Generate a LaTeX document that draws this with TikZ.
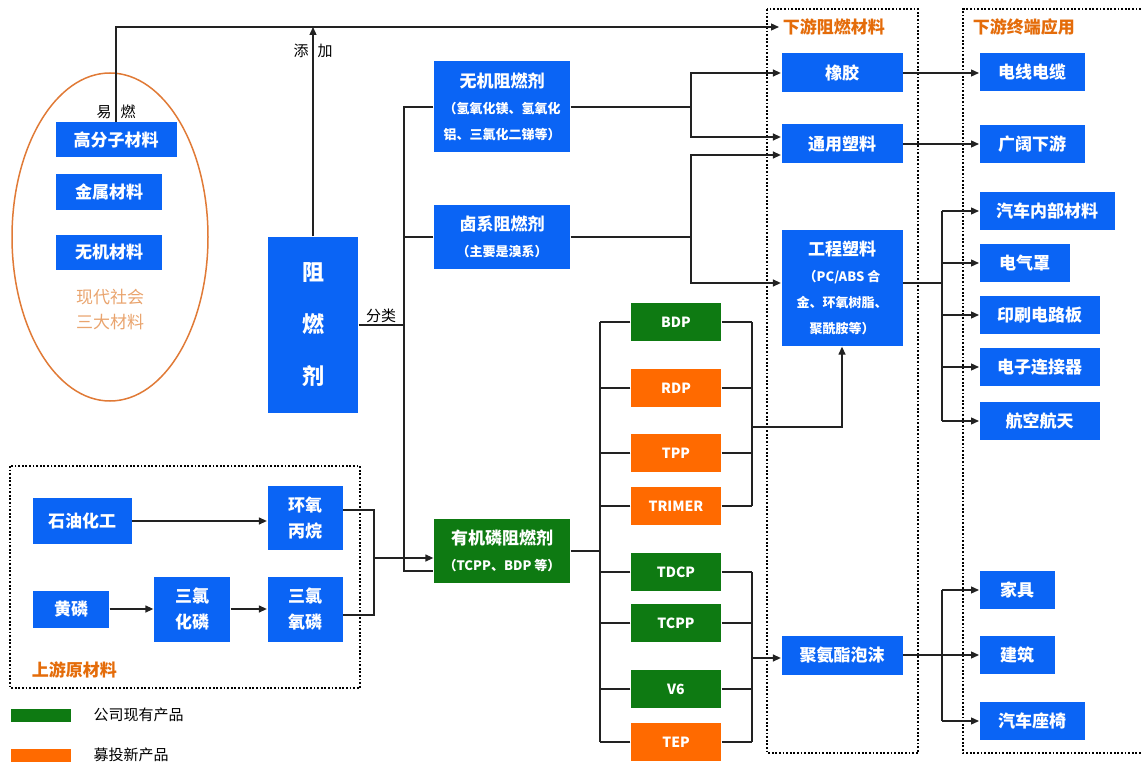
\documentclass[tikz,border=0pt]{standalone}
\usepackage{fontspec}
\setmainfont{Noto Sans CJK SC}
\usetikzlibrary{arrows.meta, positioning, calc}
\definecolor{cblue}{HTML}{0A64F5}
\definecolor{cgreen}{HTML}{0E7A12}
\definecolor{corange}{HTML}{FF6A00}
\definecolor{ctitle}{HTML}{E46C0A}
\definecolor{clight}{HTML}{E9A46E}
\definecolor{cring}{HTML}{E07A36}
\definecolor{cline}{HTML}{222222}
\newcommand{\subtxt}{\fontsize{13}{26}\selectfont}
\tikzset{
  every picture/.style={line width=1.3pt},
  box/.style={fill=#1, text=white, align=center, inner sep=0pt, font=\bfseries\fontsize{17}{26}\selectfont},
  box/.default=cblue,
  prod/.style={box=#1, minimum width=90pt, minimum height=38pt, font=\bfseries\fontsize{14}{26}\selectfont},
  app/.style={box, anchor=west, minimum height=38pt},
  arrow/.style={-{Triangle[length=8pt, width=7pt]}, draw=cline},
  link/.style={draw=cline},
  frame/.style={draw=black, line width=1.8pt, dash pattern=on 1.8pt off 1.8pt},
  heading/.style={text=ctitle, font=\bfseries\fontsize{17}{20}\selectfont},
  tag/.style={font=\fontsize{15}{18}\selectfont},
}

\begin{document}
\begin{tikzpicture}[x=1pt, y=-1pt]
  \useasboundingbox (0,0) rectangle (1141,765);
  % three materials
  \draw[cring, line width=1.5pt] (110,237) ellipse [x radius=98pt, y radius=164pt];
  \node[box, minimum width=121pt, minimum height=35pt] (gfz) at (116,140) {高分子材料};
  \node[box, minimum width=106pt, minimum height=35pt] (js) at (109,192) {金属材料};
  \node[box, minimum width=106pt, minimum height=35pt] (wjcl) at (109,252) {无机材料};
  \node[text=clight, align=center, font=\fontsize{17}{25}\selectfont] (sdcl) at (110,310) {现代社会\\三大材料};
  \node[tag] (yr) at (116,112) {易\hspace{9pt}燃};

  \node[box, minimum width=90pt, minimum height=176pt, font=\bfseries\fontsize{22}{52}\selectfont] (zrj) at (313,325) {阻\\燃\\剂};
  \node[tag] (tj) at (313,51) {添\hspace{9pt}加};
  \node[tag] (fl) at (381,316) {分类};

  \node[box, minimum width=136pt, minimum height=91pt] (wj) at (502,107) {无机阻燃剂\\\subtxt （氢氧化镁、氢氧化\\\subtxt 铝、三氯化二锑等）};
  \node[box, minimum width=136pt, minimum height=64pt] (lx) at (502,237) {卤系阻燃剂\\\subtxt （主要是溴系）};
  \node[box=cgreen, minimum width=136pt, minimum height=64pt] (yjl) at (502,551) {有机磷阻燃剂\\\subtxt （TCPP、BDP 等）};

  \foreach \i/\y/\c/\t in {1/322/cgreen/BDP, 2/388/corange/RDP, 3/453/corange/TPP, 4/506/corange/TRIMER,
                           5/572/cgreen/TDCP, 6/623/cgreen/TCPP, 7/689/cgreen/V6, 8/742/corange/TEP}
    \node[prod=\c] (p\i) at (676,\y) {\t};

  % downstream
  \draw[frame] (767,9) rectangle (918,753);
  \draw[frame] (1141,9) -- (963,9) -- (963,753) -- (1141,753);
  \node[heading, anchor=west] (xylbl) at (779,27) {下游阻燃材料};
  \node[heading, anchor=west] (zdlbl) at (969,27) {下游终端应用};
  \node[box, minimum width=121pt, minimum height=39pt] (xj) at (842,73) {橡胶};
  \node[box, minimum width=121pt, minimum height=39pt] (ty) at (842,144) {通用塑料};
  \node[box, minimum width=121pt, minimum height=116pt] (gc) at (842,288) {工程塑料\\\subtxt （PC/ABS 合\\\subtxt 金、环氧树脂、\\\subtxt 聚酰胺等）};
  \node[box, minimum width=121pt, minimum height=39pt] (jq) at (842,655) {聚氨酯泡沫};

  \node[app, minimum width=105pt] (dx) at (979,72) {电线电缆};
  \node[app, minimum width=105pt] (gk) at (979,144) {广阔下游};
  \node[app, minimum width=135pt] (a1) at (979,211) {汽车内部材料};
  \node[app, minimum width=90pt] (a2) at (979,263) {电气罩};
  \node[app, minimum width=120pt] (a3) at (979,315) {印刷电路板};
  \node[app, minimum width=120pt] (a4) at (979,367) {电子连接器};
  \node[app, minimum width=120pt] (a5) at (979,421) {航空航天};
  \node[app, minimum width=75pt] (f1) at (979,590) {家具};
  \node[app, minimum width=75pt] (f2) at (979,655) {建筑};
  \node[app, minimum width=105pt] (f3) at (979,721) {汽车座椅};

  % upstream
  \draw[frame] (10,466) rectangle (360,688);
  \node[heading, anchor=west] (sylbl) at (28,670) {上游原材料};
  \node[box, minimum width=99pt, minimum height=46pt] (syhg) at (82,521) {石油化工};
  \node[box, minimum width=75pt, minimum height=64pt] (hy) at (305,518) {环氧\\丙烷};
  \node[box, minimum width=76pt, minimum height=37pt] (hl) at (71,609) {黄磷};
  \node[box, minimum width=76pt, minimum height=65pt] (slh) at (192,609) {三氯\\化磷};
  \node[box, minimum width=75pt, minimum height=65pt] (sly) at (305,609) {三氯\\氧磷};

  % legend
  \node[fill=cgreen, minimum width=60pt, minimum height=13pt, inner sep=0pt] (lg1) at (41,715) {};
  \node[tag, right=18pt of lg1] (lt1) {公司现有产品};
  \node[fill=corange, minimum width=60pt, minimum height=13pt, inner sep=0pt] (lg2) at (41,755) {};
  \node[tag, right=18pt of lg2] (lt2) {募投新产品};

  % connectors
  \draw[arrow] (gfz.north) |- (xylbl.west);
  \draw[arrow] (zrj.north) -- (zrj.north |- xylbl.west);

  \coordinate (tk) at (404,571);
  \draw[link] (zrj.east) -- (zrj.east -| tk);
  \draw[link] (wj.west) -| (tk) -- (tk -| yjl.west);
  \draw[link] (lx.west) -- (lx.west -| tk);

  \draw[arrow] (syhg.east) -- (syhg.east -| hy.west);
  \draw[arrow] (hl.east) -- (slh.west);
  \draw[arrow] (slh.east) -- (sly.west);
  \coordinate (up) at (374,558);
  \draw[link] ([yshift=8pt]hy.east) -| (up);
  \draw[link] ([yshift=-6pt]sly.east) -| (up);
  \draw[arrow] (up) -- (up -| yjl.west);

  \coordinate (br) at (691,0);
  \draw[link] (wj.east) -- (wj.east -| br);
  \draw[arrow] (wj.east -| br) |- (xj.west);
  \draw[arrow] (wj.east -| br) |- ([yshift=7pt]ty.west);
  \draw[link] (lx.east) -- (lx.east -| br);
  \draw[arrow] (lx.east -| br) |- ([yshift=-11pt]ty.west);
  \draw[arrow] (lx.east -| br) |- ([yshift=5pt]gc.west);

  \coordinate (pl) at (600,0);
  \coordinate (pr) at (752,0);
  \draw[link] (yjl.east) -- (yjl.east -| pl);
  \draw[link] (p1.west -| pl) -- (p8.west -| pl);
  \foreach \i in {1,...,8} {
    \draw[link] (p\i.west) -- (p\i.west -| pl);
    \draw[link] (p\i.east) -- (p\i.east -| pr);
  }
  \draw[link] (p1.east -| pr) -- (p4.east -| pr);
  \draw[link] (p5.east -| pr) -- (p8.east -| pr);
  \coordinate (m1) at (752,427);
  \coordinate (m2) at (752,658);
  \draw[arrow] (m1) -| (gc.south);
  \draw[arrow] (m2) -- (m2 -| jq.west);

  \draw[arrow] (xj.east) -- (xj.east -| dx.west);
  \draw[arrow] (ty.east) -- (gk.west);
  \coordinate (ax) at (942,0);
  \draw[link] ([yshift=5pt]gc.east) -- ([yshift=5pt]gc.east -| ax);
  \draw[link] (a1.west -| ax) -- (a5.west -| ax);
  \foreach \i in {1,...,5}
    \draw[arrow] (a\i.west -| ax) -- (a\i.west);
  \draw[link] (jq.east) -- (jq.east -| ax);
  \draw[link] (f1.west -| ax) -- (f3.west -| ax);
  \foreach \i in {1,2,3}
    \draw[arrow] (f\i.west -| ax) -- (f\i.west);
\end{tikzpicture}
\end{document}
